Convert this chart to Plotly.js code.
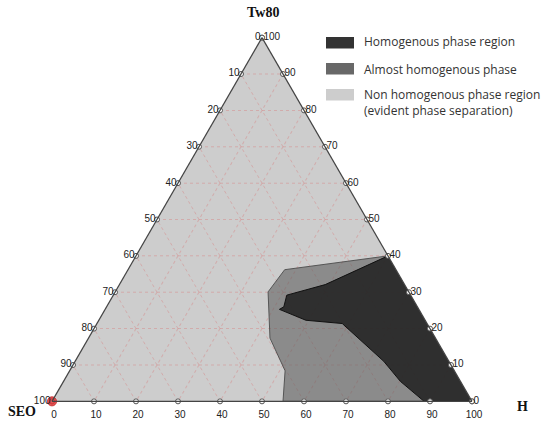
<!DOCTYPE html>
<html><head><meta charset="utf-8">
<script src="https://cdn.plot.ly/plotly-3.0.1.min.js"></script>
<style>html,body{margin:0;padding:0;background:#fff}#chart{width:550px;height:426px}</style>
</head><body><div id="chart"></div>
<script>
// Component fractions (%): Tw80 (top), SEO (bottom-left), H (bottom-right)
const almostTw80 = [40, 36.2, 30.1, 17.4, 8.4, 0, 0];
const almostSEO  = [0, 26.5, 33.5, 39.4, 40.3, 45, 0];
const almostH    = [60, 37.3, 36.4, 43.2, 51.3, 55, 100];

const homTw80 = [40, 32.1, 29.2, 26.0, 25.3, 22.3, 21.4, 11.0, 5.5, 0, 0];
const homSEO  = [0, 18.9, 29.5, 31.8, 33.2, 28.4, 20.2, 15.5, 14.3, 11.4, 0];
const homH    = [60, 49.0, 41.3, 42.2, 41.5, 49.3, 58.4, 73.5, 80.2, 88.6, 100];

const tickValues = [0, 10, 20, 30, 40, 50, 60, 70, 80, 90, 100];
const tickLabels = ['100', '90', '80', '70', '60', '50', '40', '30', '20', '10', '0'];

const axisNames = ['Tw80', 'SEO', 'H'];
const legendLabels = ['Homogenous phase region', 'Almost homogenous phase',
                      'Non homogenous phase region<br>(evident phase separation)'];
const legendColors = ['#333333', '#686868', '#cdcdcd'];

// tick marker positions along the three edges
const edgeA = [], edgeB = [], edgeC = [];
tickValues.forEach(v => {
  edgeA.push(v); edgeB.push(100 - v); edgeC.push(0);
  edgeA.push(0); edgeB.push(v); edgeC.push(100 - v);
  edgeA.push(v); edgeB.push(0); edgeC.push(100 - v);
});

const traces = [
  {type: 'scatterternary', mode: 'lines', a: almostTw80, b: almostSEO, c: almostH,
   fill: 'toself', fillcolor: 'rgba(85,85,85,0.55)', line: {color: '#555', width: 1},
   hoverinfo: 'skip', showlegend: false},
  {type: 'scatterternary', mode: 'lines', a: homTw80, b: homSEO, c: homH,
   fill: 'toself', fillcolor: 'rgba(30,30,30,0.84)', line: {color: '#111', width: 1},
   hoverinfo: 'skip', showlegend: false},
  {type: 'scatterternary', mode: 'markers', a: edgeA, b: edgeB, c: edgeC, cliponaxis: false,
   marker: {symbol: 'circle', size: 5, color: '#fff', line: {color: '#555', width: 1}},
   hoverinfo: 'skip', showlegend: false},
  {type: 'scatterternary', mode: 'markers', a: [0], b: [100], c: [0], cliponaxis: false,
   marker: {symbol: 'circle', size: 9, color: 'rgba(225,55,55,0.85)', line: {color: '#c33', width: 1}},
   hoverinfo: 'skip', showlegend: false}
];

const H = 426, W = 550;
const py = v => (H - v) / H, px = v => v / W;

function axisCfg(tl) {
  return {
    tickmode: 'array', tickvals: tickValues, ticktext: tickLabels,
    tickfont: {family: 'Liberation Sans, Arial', size: 10, color: '#222'},
    linecolor: '#444', linewidth: 1.2,
    showgrid: true, gridcolor: 'rgba(215,130,130,0.45)', griddash: 'dot', gridwidth: 1,
    ticks: tl ? 'outside' : '', ticklen: tl || 0, tickcolor: 'rgba(0,0,0,0)',
    title: {text: ''}
  };
}

const titleFont = {family: 'Liberation Serif, Times New Roman', size: 14, color: '#111'};
const shapes = [], annotations = [];
const boxTops = [37, 63, 89], textY = [42, 69, 102];
legendLabels.forEach((lab, i) => {
  shapes.push({type: 'rect', xref: 'paper', yref: 'paper',
    x0: px(326), x1: px(354), y0: py(boxTops[i] + 11.5), y1: py(boxTops[i]),
    fillcolor: legendColors[i], line: {width: 0}});
  annotations.push({xref: 'paper', yref: 'paper', x: px(362), y: py(textY[i]),
    xanchor: 'left', yanchor: 'middle', align: 'left', showarrow: false, text: lab,
    font: {family: 'Open Sans', size: 12, color: '#333'}});
});
const titlePos = [[263, 13], [22, 411], [522, 406]];
axisNames.forEach((n, i) => {
  annotations.push({xref: 'paper', yref: 'paper', x: px(titlePos[i][0]), y: py(titlePos[i][1]),
    showarrow: false, xanchor: 'center', yanchor: 'middle', text: '<b>' + n + '</b>', font: titleFont});
});

const layout = {
  width: W, height: H, margin: {l: 0, r: 0, t: 0, b: 0},
  paper_bgcolor: '#fff', showlegend: false,
  ternary: {
    sum: 100, bgcolor: '#cdcdcd',
    domain: {x: [px(52), px(472)], y: [py(402), py(37)]},
    aaxis: axisCfg(0), baxis: axisCfg(4), caxis: axisCfg(0)
  },
  shapes: shapes, annotations: annotations
};

Plotly.newPlot('chart', traces, layout, {displayModeBar: false, staticPlot: true});
</script>
</body></html>
